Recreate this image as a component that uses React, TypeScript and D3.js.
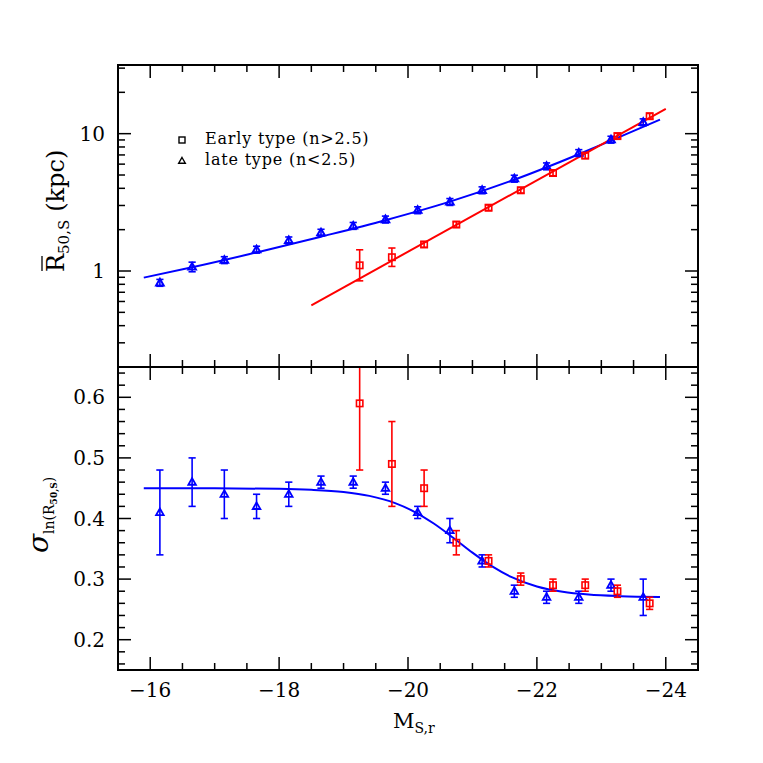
import React from 'react';
import * as d3 from 'd3';

// ---------- data ----------
// late type (n<2.5), blue triangles
const lateM = [-16.15, -16.65, -17.15, -17.65, -18.15, -18.65, -19.15, -19.65, -20.15, -20.65, -21.15, -21.65, -22.15, -22.65, -23.15, -23.65];
const lateR = [0.82, 1.07, 1.2, 1.43, 1.67, 1.9, 2.13, 2.37, 2.77, 3.18, 3.87, 4.7, 5.78, 7.22, 9.04, 12.1];
const lateRErrDex = [0.025, 0.035, 0.025, 0.025, 0.025, 0.025, 0.025, 0.025, 0.025, 0.025, 0.025, 0.025, 0.025, 0.025, 0.025, 0.025];
const lateSig = [0.41, 0.46, 0.44, 0.42, 0.44, 0.46, 0.46, 0.45, 0.41, 0.38, 0.33, 0.28, 0.27, 0.27, 0.29, 0.27];
const lateSigErr = [0.07, 0.04, 0.04, 0.02, 0.02, 0.01, 0.01, 0.01, 0.01, 0.02, 0.01, 0.01, 0.01, 0.01, 0.01, 0.03];

// early type (n>2.5), red squares
const earlyM = [-19.25, -19.75, -20.25, -20.75, -21.25, -21.75, -22.25, -22.75, -23.25, -23.75];
const earlyR = [1.1, 1.26, 1.56, 2.18, 2.89, 3.87, 5.17, 6.92, 9.6, 13.4];
const earlyRErrDex = [0.113, 0.067, 0.02, 0.02, 0.02, 0.02, 0.02, 0.02, 0.02, 0.02];
const earlySig = [0.59, 0.49, 0.45, 0.36, 0.33, 0.3, 0.29, 0.29, 0.28, 0.26];
const earlySigErr = [0.11, 0.07, 0.03, 0.02, 0.01, 0.01, 0.01, 0.01, 0.01, 0.01];

// fitted curves
const lateFitM = [-15.9, -16.65, -17.65, -18.65, -19.65, -20.65, -21.65, -22.65, -23.15, -23.91];
const lateFitR = [0.895, 1.064, 1.365, 1.778, 2.344, 3.2, 4.62, 7.08, 8.91, 12.65];
const earlyFitM = [-18.5, -24.0];
const earlyFitR = [0.563, 15.14];
const sigFitM = [-15.9, -17.0, -18.0, -18.5, -19.0, -19.4, -19.8, -20.1, -20.4, -20.7, -21.0, -21.3, -21.6, -22.0, -22.4, -22.8, -23.3, -23.91];
const sigFitV = [0.45, 0.4498, 0.449, 0.4474, 0.4437, 0.4373, 0.4254, 0.4111, 0.3917, 0.3683, 0.3436, 0.3213, 0.3036, 0.2878, 0.279, 0.2744, 0.2718, 0.2706];

// ticks
const xMajorTicks = [-16, -18, -20, -22, -24];
const xTickLabels = ['\u221216', '\u221218', '\u221220', '\u221222', '\u221224'];
const topMajorTicks = [1, 10];
const topTickLabels = ['1', '10'];
const topMinorTicks = [0.3, 0.4, 0.5, 0.6, 0.7, 0.8, 0.9, 2, 3, 4, 5, 6, 7, 8, 9, 20, 30];
const botMajorTicks = [0.2, 0.3, 0.4, 0.5, 0.6];
const botTickLabels = ['0.2', '0.3', '0.4', '0.5', '0.6'];

const legendLabels = ['Early type (n>2.5)', 'late type (n<2.5)'];

// ---------- layout ----------
const L = 118, R = 698, T = 65, MID = 367, B = 670;
const BLUE = '#0000ff', RED = '#ff0000';
const FONT = "'DejaVu Serif', serif";

const x = d3.scaleLinear().domain([-15.5, -24.5]).range([L, R]);
const yTop = d3.scaleLog().domain([0.2, 31.62]).range([MID, T]);
const yBot = d3.scaleLinear().domain([0.15, 0.65]).range([B, MID]);

const xMinorTicks = d3.range(0, 19).map((i) => -15.5 - 0.5 * i).filter((v) => !xMajorTicks.includes(v));
const botMinorTicks = d3.range(0, 25).map((i) => +(0.16 + 0.02 * i).toFixed(2)).filter((v) => v < 0.65 && !botMajorTicks.some((m) => Math.abs(m - v) < 1e-6));

const MAJ = 13, MIN = 7;

function tri(cx: number, cy: number, s = 4) {
  return `M${cx},${cy - s}L${cx + s * 0.95},${cy + s * 0.65}L${cx - s * 0.95},${cy + s * 0.65}Z`;
}

function ErrBar({ cx, y1, y2, color }: { cx: number; y1: number; y2: number; color: string }) {
  const w = 3.6;
  return (
    <g stroke={color} strokeWidth={1.6} fill="none">
      <line x1={cx} x2={cx} y1={y1} y2={y2} />
      <line x1={cx - w} x2={cx + w} y1={y1} y2={y1} />
      <line x1={cx - w} x2={cx + w} y1={y2} y2={y2} />
    </g>
  );
}

export default function App() {
  const lateLine = d3.line<number>().x((_, i) => x(lateFitM[i])).y((d) => yTop(d)).curve(d3.curveMonotoneX)(lateFitR) || '';
  const earlyLine = d3.line<number>().x((_, i) => x(earlyFitM[i])).y((d) => yTop(d))(earlyFitR) || '';
  const sigLine = d3.line<number>().x((_, i) => x(sigFitM[i])).y((d) => yBot(d)).curve(d3.curveMonotoneX)(sigFitV) || '';

  const ticksX = (y0: number, dir: number, key: string) => (
    <g key={key} stroke="#000" strokeWidth={1.5}>
      {xMajorTicks.map((v) => <line key={'M' + v} x1={x(v)} x2={x(v)} y1={y0} y2={y0 + dir * MAJ} />)}
      {xMinorTicks.map((v) => <line key={'m' + v} x1={x(v)} x2={x(v)} y1={y0} y2={y0 + dir * MIN} />)}
    </g>
  );
  const ticksY = (scale: (v: number) => number, major: number[], minor: number[], key: string) => (
    <g key={key} stroke="#000" strokeWidth={1.5}>
      {major.map((v) => <line key={'LM' + v} x1={L} x2={L + MAJ} y1={scale(v)} y2={scale(v)} />)}
      {minor.map((v) => <line key={'Lm' + v} x1={L} x2={L + MIN} y1={scale(v)} y2={scale(v)} />)}
      {major.map((v) => <line key={'RM' + v} x1={R} x2={R - MAJ} y1={scale(v)} y2={scale(v)} />)}
      {minor.map((v) => <line key={'Rm' + v} x1={R} x2={R - MIN} y1={scale(v)} y2={scale(v)} />)}
    </g>
  );

  return (
    <svg width={763} height={763} style={{ position: 'absolute', left: 0, top: 0, background: '#fff' }} fontFamily={FONT}>
      <defs>
        <clipPath id="clipTop"><rect x={L} y={T} width={R - L} height={MID - T} /></clipPath>
        <clipPath id="clipBot"><rect x={L} y={MID} width={R - L} height={B - MID} /></clipPath>
      </defs>
      <rect x={0} y={0} width={763} height={763} fill="#fff" />

      {/* ---------- top panel ---------- */}
      <g clipPath="url(#clipTop)">
        <path d={lateLine} fill="none" stroke={BLUE} strokeWidth={2} />
        <path d={earlyLine} fill="none" stroke={RED} strokeWidth={2} />
        {lateM.map((m, i) => {
          const cy = yTop(lateR[i]);
          const e = lateRErrDex[i];
          return (
            <g key={'lt' + i}>
              <ErrBar cx={x(m)} y1={yTop(lateR[i] * Math.pow(10, -e))} y2={yTop(lateR[i] * Math.pow(10, e))} color={BLUE} />
              <path d={tri(x(m), cy)} fill="none" stroke={BLUE} strokeWidth={2} />
            </g>
          );
        })}
        {earlyM.map((m, i) => {
          const cy = yTop(earlyR[i]);
          const e = earlyRErrDex[i];
          return (
            <g key={'et' + i}>
              <ErrBar cx={x(m)} y1={yTop(earlyR[i] * Math.pow(10, -e))} y2={yTop(earlyR[i] * Math.pow(10, e))} color={RED} />
              <rect x={x(m) - 3.2} y={cy - 3.2} width={6.4} height={6.4} fill="none" stroke={RED} strokeWidth={1.6} />
            </g>
          );
        })}
      </g>

      {/* ---------- bottom panel ---------- */}
      <g clipPath="url(#clipBot)">
        <path d={sigLine} fill="none" stroke={BLUE} strokeWidth={2} />
        {lateM.map((m, i) => (
          <g key={'lb' + i}>
            <ErrBar cx={x(m)} y1={yBot(lateSig[i] - lateSigErr[i])} y2={yBot(lateSig[i] + lateSigErr[i])} color={BLUE} />
            <path d={tri(x(m), yBot(lateSig[i]))} fill="none" stroke={BLUE} strokeWidth={1.8} />
          </g>
        ))}
        {earlyM.map((m, i) => (
          <g key={'eb' + i}>
            <ErrBar cx={x(m)} y1={yBot(earlySig[i] - earlySigErr[i])} y2={yBot(earlySig[i] + earlySigErr[i])} color={RED} />
            <rect x={x(m) - 3.2} y={yBot(earlySig[i]) - 3.2} width={6.4} height={6.4} fill="none" stroke={RED} strokeWidth={1.6} />
          </g>
        ))}
      </g>

      {/* ---------- frames & ticks ---------- */}
      {ticksX(T, 1, 'tx1')}
      {ticksX(MID, -1, 'tx2')}
      {ticksX(MID, 1, 'tx3')}
      {ticksX(B, -1, 'tx4')}
      {ticksY(yTop, topMajorTicks, topMinorTicks, 'ty1')}
      {ticksY(yBot, botMajorTicks, botMinorTicks, 'ty2')}
      <rect x={L} y={T} width={R - L} height={MID - T} fill="none" stroke="#000" strokeWidth={2} />
      <rect x={L} y={MID} width={R - L} height={B - MID} fill="none" stroke="#000" strokeWidth={2} />

      {/* tick labels */}
      <g fontSize={20} fill="#000">
        {xMajorTicks.map((v, i) => (
          <text key={'xl' + v} x={x(v)} y={697} textAnchor="middle">{xTickLabels[i]}</text>
        ))}
        {topMajorTicks.map((v, i) => (
          <text key={'tl' + v} x={105} y={yTop(v) + 7} textAnchor="end">{topTickLabels[i]}</text>
        ))}
        {botMajorTicks.map((v, i) => (
          <text key={'bl' + v} x={105} y={yBot(v) + 7} textAnchor="end">{botTickLabels[i]}</text>
        ))}
      </g>

      {/* x title */}
      <text x={393} y={728} fontSize={21} fill="#000">
        M<tspan fontSize={14} dy={5}>S,r</tspan>
      </text>

      {/* top y title */}
      <g transform="translate(64,272) rotate(-90)">
        <text x={0} y={0} fontSize={24} fill="#000">
          R<tspan fontSize={15} dy={5}>50,S</tspan><tspan dy={-5} dx={8}>(kpc)</tspan>
        </text>
        <line x1={1} x2={16} y1={-22} y2={-22} stroke="#000" strokeWidth={1.3} />
      </g>

      {/* bottom y title */}
      <g transform="translate(48,553) rotate(-90)">
        <text x={0} y={0} fill="#000">
          <tspan fontSize={28} fontStyle="italic">σ</tspan>
          <tspan fontSize={14} dy={6}>ln(R</tspan>
          <tspan fontSize={9} dy={3} fontWeight="bold">50,S</tspan>
          <tspan fontSize={14} dy={-3}>)</tspan>
        </text>
      </g>

      {/* legend */}
      <g>
        <rect x={179} y={137} width={6} height={6} fill="none" stroke="#000" strokeWidth={1.4} />
        <path d={tri(182, 161, 3.5)} fill="none" stroke="#000" strokeWidth={1.4} />
        <text x={205} y={144} fontSize={16} letterSpacing={0.8} fill="#000">{legendLabels[0]}</text>
        <text x={205} y={165} fontSize={16} letterSpacing={0.8} fill="#000">{legendLabels[1]}</text>
      </g>
    </svg>
  );
}
